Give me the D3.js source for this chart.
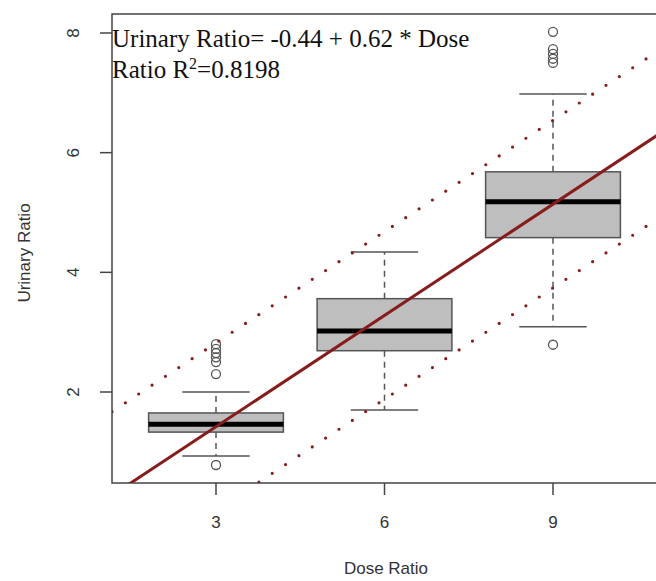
<!DOCTYPE html>
<html><head><meta charset="utf-8">
<script src="https://cdn.jsdelivr.net/npm/d3@7"></script>
<style>body{margin:0;background:#fff}svg{display:block}</style>
</head><body>
<svg id="c" width="656" height="581"></svg>
<script>
const doses = [3, 6, 9];
const whiskerLow = [0.93, 1.70, 3.09];
const q1 = [1.33, 2.69, 4.58];
const medians = [1.46, 3.02, 5.18];
const q3 = [1.65, 3.56, 5.68];
const whiskerHigh = [2.00, 4.34, 6.98];
const outliers = [
  [0.78, 2.30, 2.50, 2.58, 2.65, 2.72, 2.80],
  [],
  [2.79, 7.50, 7.57, 7.65, 7.73, 8.02]
];
const intercept = -0.44, slope = 0.62, band = 1.4;
const yTicks = [2, 4, 6, 8];
const xTicks = [3, 6, 9];

const svg = d3.select('#c');
const x = d3.scaleLinear().domain([3, 9]).range([216, 553]);
const y = d3.scaleLinear().domain([2, 8]).range([392, 33]);
const pLeft = 112, pTop = 14, pBottom = 483, pRight = 700;
const xMin = x.invert(pLeft), xMax = x.invert(pRight);

svg.append('clipPath').attr('id', 'clip').append('rect')
  .attr('x', pLeft).attr('y', pTop).attr('width', pRight - pLeft).attr('height', pBottom - pTop);

const g = svg.append('g').attr('clip-path', 'url(#clip)');
const boxHalf = 1.2, capHalf = 0.6;
const gray = '#555';

doses.forEach((d, i) => {
  g.append('line').attr('x1', x(d)).attr('x2', x(d)).attr('y1', y(q3[i])).attr('y2', y(whiskerHigh[i]))
    .attr('stroke', gray).attr('stroke-width', 1.5).attr('stroke-dasharray', '6,5');
  g.append('line').attr('x1', x(d)).attr('x2', x(d)).attr('y1', y(q1[i])).attr('y2', y(whiskerLow[i]))
    .attr('stroke', gray).attr('stroke-width', 1.5).attr('stroke-dasharray', '6,5');
  [whiskerHigh[i], whiskerLow[i]].forEach(v => {
    g.append('line').attr('x1', x(d - capHalf)).attr('x2', x(d + capHalf)).attr('y1', y(v)).attr('y2', y(v))
      .attr('stroke', gray).attr('stroke-width', 1.5);
  });
  g.append('rect').attr('x', x(d - boxHalf)).attr('width', x(d + boxHalf) - x(d - boxHalf))
    .attr('y', y(q3[i])).attr('height', y(q1[i]) - y(q3[i]))
    .attr('fill', '#bebebe').attr('stroke', gray).attr('stroke-width', 1.5);
  g.append('line').attr('x1', x(d - boxHalf)).attr('x2', x(d + boxHalf)).attr('y1', y(medians[i])).attr('y2', y(medians[i]))
    .attr('stroke', '#000').attr('stroke-width', 5);
  outliers[i].forEach(v => {
    g.append('circle').attr('cx', x(d)).attr('cy', y(v)).attr('r', 4.5)
      .attr('fill', 'none').attr('stroke', gray).attr('stroke-width', 1.3);
  });
});

const red = '#861c1c';
const fit = v => intercept + slope * v;
g.append('line').attr('x1', x(xMin)).attr('y1', y(fit(xMin))).attr('x2', x(xMax)).attr('y2', y(fit(xMax)))
  .attr('stroke', red).attr('stroke-width', 3);
[band, -band].forEach(o => {
  g.append('line').attr('x1', x(xMin)).attr('y1', y(fit(xMin) + o)).attr('x2', x(xMax)).attr('y2', y(fit(xMax) + o))
    .attr('stroke', red).attr('stroke-width', 3.2).attr('stroke-linecap', 'round').attr('stroke-dasharray', '0,16');
});

svg.append('path').attr('d', `M${pRight},${pTop}H${pLeft}V${pBottom}H${pRight}`)
  .attr('fill', 'none').attr('stroke', '#444').attr('stroke-width', 1.5);

yTicks.forEach(t => {
  svg.append('line').attr('x1', pLeft - 12).attr('x2', pLeft).attr('y1', y(t)).attr('y2', y(t))
    .attr('stroke', '#444').attr('stroke-width', 1.5);
  svg.append('text').attr('transform', `translate(79,${y(t)}) rotate(-90)`)
    .attr('text-anchor', 'middle').attr('font-family', 'Liberation Sans, Arial, sans-serif')
    .attr('font-size', 17).attr('fill', '#333').text(t);
});
xTicks.forEach(t => {
  svg.append('line').attr('x1', x(t)).attr('x2', x(t)).attr('y1', pBottom).attr('y2', pBottom + 12)
    .attr('stroke', '#444').attr('stroke-width', 1.5);
  svg.append('text').attr('x', x(t)).attr('y', 528)
    .attr('text-anchor', 'middle').attr('font-family', 'Liberation Sans, Arial, sans-serif')
    .attr('font-size', 17).attr('fill', '#333').text(t);
});
svg.append('text').attr('x', 386).attr('y', 574).attr('text-anchor', 'middle')
  .attr('font-family', 'Liberation Sans, Arial, sans-serif').attr('font-size', 17).attr('fill', '#333').text('Dose Ratio');
svg.append('text').attr('transform', 'translate(30,253) rotate(-90)').attr('text-anchor', 'middle')
  .attr('font-family', 'Liberation Sans, Arial, sans-serif').attr('font-size', 17).attr('fill', '#333').text('Urinary Ratio');

svg.append('text').attr('x', 112).attr('y', 47).attr('font-family', 'Liberation Serif, Times New Roman, serif')
  .attr('font-size', 25).attr('fill', '#111').text('Urinary Ratio= -0.44 + 0.62 * Dose');
const t2 = svg.append('text').attr('x', 112).attr('y', 78).attr('font-family', 'Liberation Serif, Times New Roman, serif')
  .attr('font-size', 25).attr('fill', '#111');
t2.append('tspan').text('Ratio R');
t2.append('tspan').attr('font-size', 16).attr('dy', -9).text('2');
t2.append('tspan').attr('dy', 9).text('=0.8198');
</script>
</body></html>
